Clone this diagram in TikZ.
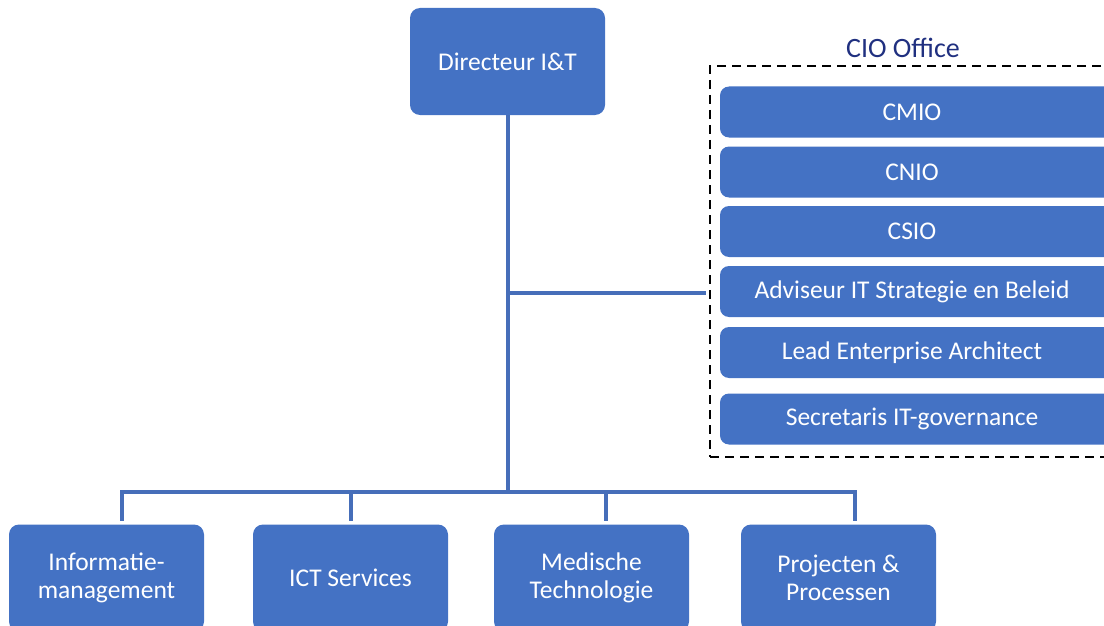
\documentclass[tikz,border=0pt]{standalone}
\usepackage{fontspec}
\setmainfont{Carlito}
\definecolor{orgblue}{RGB}{68,114,196}
\definecolor{linkblue}{RGB}{70,110,185}
\definecolor{officenavy}{RGB}{32,48,128}
% role text sits centred on the visible part of the bar
\newcommand{\roletext}[1]{\makebox[384pt]{#1}\hspace*{16pt}}

\begin{document}
\begin{tikzpicture}[x=1pt,y=-1pt]
\tikzstyle{every node}+=[inner sep=0pt]
\tikzstyle{unit}=[fill=orgblue, text=white, rounded corners=10pt, align=center,
  font=\fontsize{25.5}{28}\selectfont, minimum width=195pt, minimum height=107pt]
\tikzstyle{role}=[fill=orgblue, text=white, rounded corners=9pt,
  font=\fontsize{25.5}{28}\selectfont, minimum width=400pt, minimum height=51pt]
\tikzstyle{link}=[linkblue, line width=4pt]
\useasboundingbox (0,0) rectangle (1104,626);
% top and CIO office
\node [unit] (dir) at (507.5,61.5) {Directeur I\&T};
\node [draw=black, dashed, line width=1.4pt, dash pattern=on 9pt off 6pt,
  minimum width=420pt, minimum height=391pt] (cio) at (920,261.5) {};
\node [text=officenavy, font=\fontsize{28}{30}\selectfont] (ciolabel) at (903,48) {CIO Office};
\node [role] (cmio) at (920,112) {\roletext{CMIO}};
\node [role] (cnio) at (920,172) {\roletext{CNIO}};
\node [role] (csio) at (920,231.5) {\roletext{CSIO}};
\node [role] (adv) at (920,291.5) {\roletext{Adviseur IT Strategie en Beleid}};
\node [role] (lea) at (920,352.5) {\roletext{Lead Enterprise Architect}};
\node [role] (sec) at (920,419) {\roletext{Secretaris IT-governance}};
% departments
\node [unit] (im) at (106.5,578) {Informatie-\\management};
\node [unit] (ict) at (350.5,578) {ICT Services};
\node [unit] (mt) at (591.5,578) {Medische\\Technologie};
\node [unit] (pp) at (838.5,578) {Projecten \&\\Processen};
% connectors
\coordinate (bus) at (507.5,492);
\coordinate (tap) at (507.5,293);
\draw [link] (dir.south) -- (bus);
\draw [link] (tap) -- ([xshift=-3pt]cio.west |- tap);
\draw [link, shorten >=3pt] ([xshift=15pt]im.north |- bus) -- ([xshift=15pt]im.north);
\draw [link, shorten >=3pt] (ict.north |- bus) -- (ict.north);
\draw [link, shorten >=3pt] ([xshift=14pt]mt.north |- bus) -- ([xshift=14pt]mt.north);
\draw [link, shorten >=3pt] ([xshift=16pt]pp.north |- bus) -- ([xshift=16pt]pp.north);
\draw [link, line cap=rect] ([xshift=15pt]im.north |- bus) -- ([xshift=16pt]pp.north |- bus);
\end{tikzpicture}
\end{document}
